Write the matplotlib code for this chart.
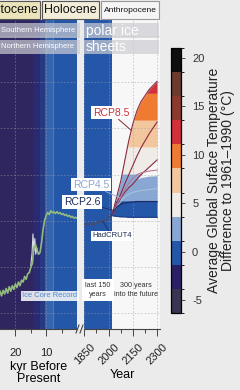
import matplotlib.pyplot as plt
import numpy as np
from matplotlib import cm
from matplotlib.colors import (BoundaryNorm, LinearSegmentedColormap,
                               ListedColormap, Normalize)
from matplotlib.lines import Line2D
from matplotlib.patches import Rectangle

plt.rcParams['font.family'] = ['Liberation Sans', 'DejaVu Sans']

# colour classes shared by the colour bar, the stripes and the projections
temp_colors = ['#3a3552', '#2a2065', '#2557a8', '#88a7d2', '#efebe6',
               '#f2c79e', '#ef7a32', '#d2303a', '#8a3a30', '#6b3b2d', '#0e0e0e']
cbar_bounds = [-6.3, -3.82, -1.34, 1.15, 3.63, 6.11, 8.59, 11.07, 13.56,
               16.04, 18.52, 21.0]
cbar_ticks = [-5, 0, 5, 10, 15, 20]
cbar_ticklabels = ['-5', '0', '5', '10', '15', '20']
plot_bounds = [-6.5, -3.6, -0.7, 2.2, 5.1, 8.0, 10.9, 13.8, 16.7, 19.6,
               22.5, 25.4]

# background stripes: paleo (kyr before present) and instrumental (year)
paleo_edges_kyr = [0, 7.4, 7.8, 10.4, 12.0, 14.3, 25]
paleo_stripe_temp = [0.75, 2.0, 1.2, -0.8, -1.6, -3.0]
hist_edges_year = [1848, 2020]
hist_stripe_temp = [0.75]

# ice core record
ice_kyr = [25, 24.5, 24, 23.5, 23, 22.5, 22, 21.5, 21, 20.5, 20, 19.5, 19,
           18.5, 18, 17.5, 17, 16.5, 16, 15.5, 15, 14.5, 14, 13.5, 13, 12.5,
           12, 11.5, 11, 10.5, 10, 9.5, 9, 8.5, 8, 7.5, 7, 6.5, 6, 5.5, 5,
           4.5, 4, 3.5, 3, 2.5, 2, 1.5, 1, 0.5, 0]
ice_temp = [-7.6, -8.1, -7.5, -7.9, -7.3, -7.8, -7.1, -7.6, -7.0, -7.4,
            -6.8, -7.2, -6.6, -7.0, -6.4, -6.6, -6.0, -6.3, -5.7, -5.6,
            -5.0, -4.6, -3.0, -2.5, -3.1, -3.6, -3.4, -2.3, -0.9, 0.1,
            0.6, 0.9, 0.7, 1.1, 0.9, 1.0, 0.8, 1.0, 0.8, 0.9,
            0.7, 0.8, 0.6, 0.7, 0.5, 0.6, 0.4, 0.5, 0.3, 0.4, 0.3]
nh_kyr = [15.0, 14.6, 14.3, 14.0, 13.7, 13.4, 13.1, 12.8]
nh_temp = [-4.8, -3.5, -1.4, -3.2, -1.9, -3.6, -2.9, -3.4]

# HadCRUT4
hadcrut_year = [1850, 1855, 1860, 1865, 1870, 1875, 1880, 1885, 1890, 1895,
                1900, 1905, 1910, 1915, 1920, 1925, 1930, 1935, 1940, 1945,
                1950, 1955, 1960, 1965, 1970, 1975, 1980, 1985, 1990, 1995,
                2000, 2005, 2010, 2015]
hadcrut_temp = [-0.37, -0.32, -0.38, -0.30, -0.28, -0.33, -0.27, -0.35,
                -0.40, -0.30, -0.22, -0.38, -0.45, -0.30, -0.27, -0.22,
                -0.16, -0.17, -0.02, -0.05, -0.17, -0.15, -0.03, -0.08,
                -0.05, -0.06, 0.10, 0.06, 0.25, 0.25, 0.30, 0.45, 0.47, 0.60]

# projections
rcp_year = [2015, 2030, 2050, 2075, 2100, 2125, 2150, 2175, 2200, 2250, 2300]
rcp85_hi = [0.6, 1.2, 2.6, 4.3, 6.5, 8.7, 10.5, 11.9, 12.9, 14.2, 15.1]
rcp85_mid = [0.6, 1.0, 1.9, 2.9, 4.0, 5.0, 6.0, 7.0, 7.9, 9.4, 10.7]
rcp85_lo = [0.6, 0.7, 1.5, 2.5, 3.1, 3.6, 4.0, 4.5, 5.0, 5.8, 6.6]
rcp60_line = [0.6, 1.0, 1.7, 2.6, 3.4, 4.1, 4.6, 5.0, 5.2, 5.4, 5.5]
rcp45_hi = [0.6, 1.1, 1.9, 2.8, 3.5, 4.0, 4.3, 4.5, 4.7, 4.85, 4.9]
rcp45_mid = [0.6, 0.95, 1.5, 2.1, 2.6, 2.9, 3.1, 3.2, 3.3, 3.4, 3.5]
rcp45_lo = [0.6, 0.8, 1.1, 1.4, 1.6, 1.7, 1.8, 1.85, 1.9, 1.95, 2.0]
rcp26_hi = [0.6, 1.0, 1.5, 1.8, 1.95, 2.0, 2.05, 2.1, 2.1, 2.1, 2.1]
rcp26_lo = [0.6, 0.55, 0.5, 0.45, 0.45, 0.4, 0.4, 0.4, 0.4, 0.4, 0.4]

epoch_names = ['Pleistocene', 'Holocene', 'Anthropocene']
kyr_ticks = [20, 10]
kyr_minor = [15, 5]
year_ticks = [1850, 2000, 2150, 2300]
year_minor = [1925, 2075, 2225]

YLIM = (-11.68, 21.73)
W, H = 240, 390

temp_cmap = ListedColormap(temp_colors)
smooth_cmap = LinearSegmentedColormap.from_list(
    'smooth', list(zip(np.linspace(0, 1, len(temp_colors)), temp_colors)))
smooth_norm = Normalize(-5.05, 23.95)


def px_box(x0, y0, x1, y1):
    # pixel box measured from the top left corner -> figure fraction
    return [x0 / W, 1 - y1 / H, (x1 - x0) / W, (y1 - y0) / H]


def temp_band(ax, x, lo, hi):
    # fill an envelope, coloured in horizontal temperature classes
    xf = np.linspace(x[0], x[-1], 400)
    lof = np.interp(xf, x, lo)
    hif = np.interp(xf, x, hi)
    for i, c in enumerate(temp_colors):
        a, b = plot_bounds[i], plot_bounds[i + 1]
        ax.fill_between(xf, np.clip(lof, a, b), np.clip(hif, a, b),
                        color=c, lw=0, zorder=1)


fig = plt.figure(figsize=(W / 100, H / 100), dpi=100, facecolor='#ebebeb')
ax_l = fig.add_axes(px_box(0, 20, 77, 329))
ax_r = fig.add_axes(px_box(84, 20, 160, 329), facecolor='#f7f7f7')
cax = fig.add_axes(px_box(171, 48, 181, 313))

# stripes
ax_l.pcolormesh(paleo_edges_kyr, YLIM, [paleo_stripe_temp], cmap=smooth_cmap,
                norm=smooth_norm, shading='flat', zorder=0.2)
ax_r.pcolormesh(hist_edges_year, YLIM, [hist_stripe_temp], cmap=smooth_cmap,
                norm=smooth_norm, shading='flat', zorder=0.2)

# paleo record
ax_l.plot(nh_kyr, nh_temp, color='#d9dbe4', lw=0.8, zorder=3)
ax_l.plot(ice_kyr, ice_temp, color='#94bb7e', lw=1.2, zorder=3)

# projections
temp_band(ax_r, rcp_year, rcp85_lo, rcp85_hi)
temp_band(ax_r, rcp_year, rcp45_lo, rcp45_hi)
temp_band(ax_r, rcp_year, rcp26_lo, rcp26_hi)
for series in (rcp85_hi, rcp85_mid, rcp85_lo):
    ax_r.plot(rcp_year, series, color='#8a2a40', lw=0.8, zorder=3)
ax_r.plot(rcp_year, rcp60_line, color='#b8789a', lw=0.8, zorder=3)
ax_r.plot(rcp_year, rcp45_mid, color='#a9bfe0', lw=0.8, zorder=3)
ax_r.plot(rcp_year, rcp26_hi, color='#1e2d68', lw=0.9, zorder=3)
ax_r.plot(rcp_year, rcp26_lo, color='#1e3a88', lw=0.8, zorder=3)
ax_r.plot(hadcrut_year, hadcrut_temp, color='#4a4a66', lw=0.9, zorder=4)

# axes styling
for ax in (ax_l, ax_r):
    ax.set_ylim(*YLIM)
    ax.set_yticks([-10, -5, 0, 5, 10, 15, 20])
    ax.tick_params(axis='y', length=0, labelleft=False)
    ax.tick_params(axis='x', which='major', length=5, width=0.7,
                   color='#444444', labelsize=8, labelcolor='#222222')
    ax.tick_params(axis='x', which='minor', length=3, width=0.7,
                   color='#444444')
    for side in ('top', 'left', 'right'):
        ax.spines[side].set_visible(False)
    ax.spines['bottom'].set_color('#444444')
    ax.spines['bottom'].set_linewidth(0.8)
    ax.set_axisbelow('line')
    ax.grid(True, which='major', color='#9a9aa6', alpha=0.55,
            linestyle=(0, (2, 2)), linewidth=0.6)

ax_l.set_xlim(25, 0)
ax_l.set_xticks(kyr_ticks)
ax_l.set_xticks(kyr_minor, minor=True)
ax_l.tick_params(axis='x', which='major', pad=9)
ax_l.set_xlabel('kyr Before\nPresent', fontsize=9, labelpad=2,
                linespacing=1.0)

ax_r.set_xlim(1848, 2318)
ax_r.set_xticks(year_ticks)
ax_r.set_xticks(year_minor, minor=True)
ax_r.set_xticklabels([str(y) for y in year_ticks], rotation=45, ha='center')
ax_r.tick_params(axis='x', which='major', pad=4)
ax_r.set_xlabel('Year', fontsize=9, labelpad=2)

# annotations
label_box = dict(boxstyle='square,pad=0.15', fc='white', ec='none')
ax_r.annotate('RCP8.5', xy=(2140, 9.8), xytext=(2015, 11.7),
              fontsize=7.5, color='#c8323a', ha='center', va='center',
              bbox=label_box, annotation_clip=False, zorder=6,
              arrowprops=dict(arrowstyle='-', color='#8a2a30', lw=0.7,
                              shrinkA=0, shrinkB=0))
ax_r.annotate('RCP4.5', xy=(2070, 2.5), xytext=(1891, 3.9),
              fontsize=7.5, color='#8ea6cc', ha='center', va='center',
              bbox=label_box, annotation_clip=False, zorder=6,
              arrowprops=dict(arrowstyle='-', color='#9ab0d8', lw=0.7,
                              shrinkA=0, shrinkB=0))
ax_r.annotate('RCP2.6', xy=(2040, 1.1), xytext=(1836, 2.05),
              fontsize=7.5, color='#1e2a5e', ha='center', va='center',
              bbox=label_box, annotation_clip=False, zorder=6,
              arrowprops=dict(arrowstyle='-', color='#23306a', lw=0.7,
                              shrinkA=0, shrinkB=0))
ax_r.annotate('HadCRUT4', xy=(1965, -0.05), xytext=(2021, -1.62),
              fontsize=5.5, color='#1e2a4e', ha='center', va='center',
              bbox=label_box, annotation_clip=False, zorder=6,
              arrowprops=dict(arrowstyle='-', color='#23306a', lw=0.7,
                              shrinkA=0, shrinkB=0))
ax_l.text(8.9, -8.1, 'Ice Core Record', fontsize=5.4, color='#4f86c6',
          ha='center', va='center', zorder=6,
          bbox=dict(boxstyle='square,pad=0.2', fc='white', ec='none',
                    alpha=0.85))
ax_r.text(1935, -7.46, 'last 150\nyears', fontsize=5.2, color='#333333',
          ha='center', va='center', linespacing=1.35, zorder=6,
          bbox=dict(boxstyle='square,pad=0.45', fc='white', ec='none'))
ax_r.text(2170, -7.46, '300 years\ninto the future', fontsize=5.2,
          color='#333333', ha='center', va='center', linespacing=1.35,
          zorder=6)

# epoch header boxes
to_fig = fig.transFigure.inverted()


def fig_x(ax, xval):
    return to_fig.transform(ax.transData.transform((xval, 0)))[0]


epoch_span = [(fig_x(ax_l, 40), fig_x(ax_l, 11.7)),
              (fig_x(ax_l, 11.7), fig_x(ax_r, 1950)),
              (fig_x(ax_r, 1950), fig_x(ax_r, 2318))]
epoch_face = ['#ebe4bb', '#f1edd8', '#f5f5f5']
epoch_edge = ['#555555', '#555555', '#999999']
epoch_size = [9, 9, 6]
top, bot = 1 - 1 / H, 1 - 19 / H
for name, (x0, x1), fc, ec, fs in zip(epoch_names, epoch_span, epoch_face,
                                       epoch_edge, epoch_size):
    gap = 1.0 / W
    fig.add_artist(Rectangle((x0 + gap, bot), x1 - x0 - 2 * gap, top - bot,
                             transform=fig.transFigure, fc=fc, ec=ec, lw=0.8))
    if name == 'Pleistocene':
        fig.text(x1 - 3 / W, (top + bot) / 2, name, fontsize=fs, ha='right',
                 va='center', color='#111111')
    else:
        fig.text((x0 + x1) / 2, (top + bot) / 2, name, fontsize=fs,
                 ha='center', va='center', color='#111111')

# hemisphere / ice sheet rows
rows = [(23, 38, 'Southern Hemisphere', 'polar ice'),
        (40, 54, 'Northern Hemisphere', 'sheets')]
for y0, y1, left_txt, right_txt in rows:
    for x0, x1 in ((0, 80), (84, 159)):
        b = px_box(x0, y0, x1, y1)
        fig.add_artist(Rectangle((b[0], b[1]), b[2], b[3],
                                 transform=fig.transFigure, fc='#ccccd2',
                                 ec='none', alpha=0.7))
    yc = 1 - (y0 + y1) / 2 / H
    fig.text(1 / W, yc, left_txt, fontsize=5.5, color='white', ha='left',
             va='center')
    fig.text(86 / W, yc, right_txt, fontsize=10, color='white', ha='left',
             va='center')

# axis break marks
for x0 in (76, 80):
    fig.add_artist(Line2D([x0 / W, (x0 + 3) / W], [1 - 333 / H, 1 - 325 / H],
                          transform=fig.transFigure, color='#444444', lw=0.8))

# colour bar
sm = cm.ScalarMappable(norm=BoundaryNorm(cbar_bounds, temp_cmap.N),
                       cmap=temp_cmap)
cb = fig.colorbar(sm, cax=cax, ticks=cbar_ticks)
cb.ax.set_yticklabels(cbar_ticklabels)
cb.outline.set_linewidth(0.9)
cb.ax.tick_params(length=3, width=0.6, labelsize=8, colors='#333333', pad=5)
cb.set_label('Average Global Suface Temperature\nDifference to 1961–1990 (°C)',
             fontsize=10, labelpad=2, linespacing=0.95, color='#222222')

fig.savefig('out.png', dpi=100, facecolor=fig.get_facecolor())
